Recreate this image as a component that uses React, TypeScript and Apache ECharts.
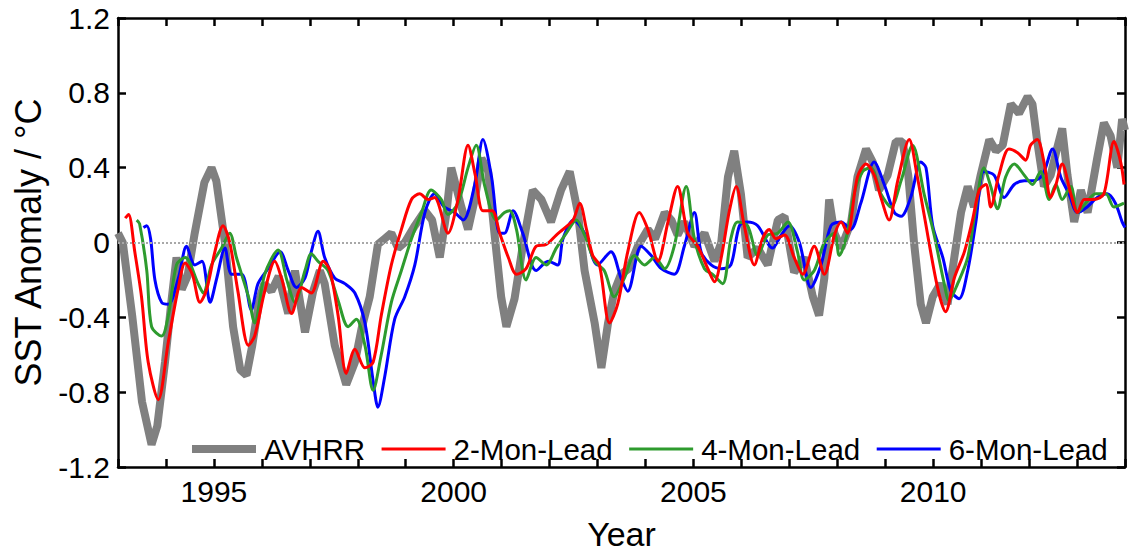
import React, { useEffect, useRef } from "react";
import * as echarts from "echarts";

// [year, SST anomaly °C]
const avhrr: [number, number][] = [
  [1993.0, 0.05], [1993.1, 0.0], [1993.3, -0.4], [1993.5, -0.85], [1993.7, -1.08], [1993.82, -0.98],
  [1993.98, -0.64], [1994.12, -0.3], [1994.22, -0.08], [1994.33, -0.25], [1994.45, -0.18], [1994.6, 0.05],
  [1994.8, 0.32], [1994.95, 0.4], [1995.05, 0.33], [1995.23, 0.0], [1995.4, -0.45], [1995.55, -0.68],
  [1995.68, -0.71], [1995.8, -0.55], [1995.95, -0.3], [1996.05, -0.22], [1996.2, -0.26], [1996.35, -0.18],
  [1996.55, -0.38], [1996.69, -0.15], [1996.9, -0.48], [1997.07, -0.26], [1997.21, -0.15], [1997.31, -0.22],
  [1997.52, -0.55], [1997.76, -0.76], [1997.94, -0.64], [1998.08, -0.46], [1998.25, -0.29], [1998.42, -0.01],
  [1998.56, 0.02], [1998.7, 0.05], [1998.84, -0.03], [1998.98, 0.0], [1999.19, 0.09], [1999.4, 0.17],
  [1999.55, 0.12], [1999.71, -0.08], [1999.85, 0.16], [1999.95, 0.4], [2000.16, 0.19], [2000.3, 0.07],
  [2000.44, 0.23], [2000.58, 0.45], [2000.72, 0.38], [2000.85, 0.05], [2000.99, -0.29], [2001.1, -0.45],
  [2001.27, -0.3], [2001.44, -0.02], [2001.65, 0.28], [2001.83, 0.23], [2002.03, 0.11], [2002.24, 0.28],
  [2002.42, 0.38], [2002.59, 0.16], [2002.73, -0.15], [2002.94, -0.43], [2003.08, -0.67], [2003.22, -0.43],
  [2003.35, -0.26], [2003.49, -0.17], [2003.65, -0.14], [2003.84, -0.02], [2004.05, 0.07], [2004.2, 0.02],
  [2004.4, 0.16], [2004.54, 0.12], [2004.67, 0.04], [2004.81, 0.11], [2005.02, -0.02], [2005.23, 0.05],
  [2005.44, -0.1], [2005.58, 0.0], [2005.72, 0.35], [2005.85, 0.49], [2005.99, 0.26], [2006.13, -0.08],
  [2006.34, -0.03], [2006.55, -0.12], [2006.76, 0.12], [2006.9, 0.14], [2007.1, -0.16], [2007.31, -0.08],
  [2007.49, -0.29], [2007.62, -0.39], [2007.73, -0.19], [2007.83, 0.23], [2007.94, 0.05], [2008.08, -0.03],
  [2008.29, 0.11], [2008.42, 0.35], [2008.6, 0.5], [2008.74, 0.43], [2008.87, 0.28], [2009.05, 0.36],
  [2009.22, 0.54], [2009.36, 0.54], [2009.48, 0.36], [2009.6, 0.0], [2009.74, -0.33], [2009.85, -0.43],
  [2009.99, -0.29], [2010.15, -0.22], [2010.3, -0.33], [2010.44, -0.08], [2010.58, 0.16], [2010.72, 0.3],
  [2010.85, 0.19], [2010.99, 0.36], [2011.17, 0.55], [2011.31, 0.49], [2011.45, 0.52], [2011.62, 0.74],
  [2011.79, 0.69], [2011.97, 0.78], [2012.07, 0.74], [2012.17, 0.54], [2012.31, 0.3], [2012.45, 0.36],
  [2012.58, 0.5], [2012.69, 0.61], [2012.8, 0.36], [2012.94, 0.11], [2013.08, 0.28], [2013.22, 0.16],
  [2013.42, 0.45], [2013.56, 0.64], [2013.7, 0.57], [2013.84, 0.4], [2013.94, 0.66], [2014.0, 0.6],
];

const lead2: [number, number][] = [
  [1993.15, 0.13], [1993.22, 0.15], [1993.35, -0.05], [1993.49, -0.29], [1993.63, -0.64], [1993.84, -0.84],
  [1994.05, -0.53], [1994.26, -0.24], [1994.4, -0.11], [1994.55, -0.17], [1994.71, -0.32], [1994.85, -0.25],
  [1995.02, -0.05], [1995.19, 0.09], [1995.33, 0.0], [1995.5, -0.26], [1995.72, -0.55], [1995.85, -0.5],
  [1996.06, -0.26], [1996.27, -0.1], [1996.42, -0.2], [1996.62, -0.38], [1996.83, -0.24], [1997.03, -0.27],
  [1997.28, -0.1], [1997.42, -0.15], [1997.59, -0.39], [1997.76, -0.7], [1997.94, -0.57], [1998.15, -0.67],
  [1998.32, -0.64], [1998.49, -0.39], [1998.7, -0.12], [1998.91, 0.07], [1999.12, 0.23], [1999.29, 0.26],
  [1999.47, 0.23], [1999.6, 0.24], [1999.88, 0.05], [2000.09, 0.23], [2000.3, 0.52], [2000.45, 0.36],
  [2000.61, 0.17], [2000.8, 0.17], [2000.96, 0.05], [2001.14, -0.08], [2001.31, -0.17], [2001.51, -0.14],
  [2001.72, -0.02], [2001.93, -0.01], [2002.14, 0.04], [2002.28, 0.07], [2002.49, 0.12], [2002.63, 0.21],
  [2002.77, 0.07], [2002.9, -0.07], [2003.04, -0.12], [2003.25, -0.43], [2003.42, -0.33], [2003.63, -0.05],
  [2003.87, 0.16], [2004.05, 0.07], [2004.26, -0.1], [2004.47, 0.11], [2004.67, 0.3], [2004.88, 0.05],
  [2005.09, -0.02], [2005.3, -0.14], [2005.44, -0.21], [2005.58, -0.08], [2005.75, 0.17], [2005.89, 0.3],
  [2006.06, 0.09], [2006.27, -0.12], [2006.44, 0.02], [2006.58, 0.07], [2006.72, 0.02], [2006.9, 0.04],
  [2007.1, -0.08], [2007.28, -0.17], [2007.52, -0.02], [2007.73, -0.17], [2007.94, 0.04], [2008.08, 0.11],
  [2008.21, 0.05], [2008.42, 0.35], [2008.6, 0.42], [2008.77, 0.36], [2008.91, 0.24], [2009.08, 0.12],
  [2009.26, 0.33], [2009.5, 0.55], [2009.67, 0.35], [2009.81, 0.15], [2010.09, -0.24], [2010.26, -0.37],
  [2010.44, -0.19], [2010.65, -0.05], [2010.82, 0.12], [2010.96, 0.28], [2011.1, 0.31], [2011.2, 0.19],
  [2011.37, 0.36], [2011.58, 0.5], [2011.76, 0.48], [2011.93, 0.44], [2012.03, 0.52], [2012.17, 0.55],
  [2012.31, 0.43], [2012.45, 0.24], [2012.55, 0.3], [2012.69, 0.42], [2012.87, 0.26], [2013.01, 0.16],
  [2013.15, 0.23], [2013.35, 0.23], [2013.56, 0.26], [2013.77, 0.54], [2013.91, 0.43], [2013.98, 0.31],
];

const lead4: [number, number][] = [
  [1993.39, 0.12], [1993.45, 0.1], [1993.6, -0.15], [1993.7, -0.45], [1993.91, -0.5], [1994.05, -0.39],
  [1994.22, -0.12], [1994.4, -0.08], [1994.67, -0.22], [1994.78, -0.27], [1994.95, -0.12], [1995.16, -0.03],
  [1995.33, 0.05], [1995.47, -0.08], [1995.72, -0.29], [1995.85, -0.43], [1996.06, -0.17], [1996.34, -0.04],
  [1996.52, -0.2], [1996.69, -0.32], [1996.9, -0.15], [1997.03, -0.06], [1997.17, -0.1], [1997.38, -0.15],
  [1997.59, -0.31], [1997.8, -0.45], [1997.97, -0.41], [1998.15, -0.55], [1998.32, -0.79], [1998.49, -0.6],
  [1998.7, -0.32], [1998.91, -0.15], [1999.12, 0.02], [1999.33, 0.16], [1999.53, 0.28], [1999.74, 0.23],
  [1999.88, 0.15], [2000.09, 0.21], [2000.3, 0.4], [2000.47, 0.52], [2000.65, 0.3], [2000.89, 0.12],
  [2001.06, 0.16], [2001.17, 0.17], [2001.31, 0.07], [2001.51, -0.2], [2001.72, -0.08], [2001.93, -0.12],
  [2002.14, -0.03], [2002.35, 0.05], [2002.56, 0.12], [2002.73, 0.04], [2002.94, -0.1], [2003.14, -0.15],
  [2003.35, -0.29], [2003.56, -0.19], [2003.77, -0.07], [2003.98, -0.12], [2004.19, -0.08], [2004.4, -0.14],
  [2004.6, -0.02], [2004.85, 0.3], [2005.02, 0.02], [2005.23, -0.14], [2005.4, -0.17], [2005.61, -0.22],
  [2005.78, 0.02], [2005.92, 0.11], [2006.13, 0.09], [2006.34, -0.07], [2006.55, 0.04], [2006.76, 0.05],
  [2006.97, 0.11], [2007.17, -0.05], [2007.31, -0.2], [2007.52, -0.15], [2007.73, 0.0], [2007.94, 0.05],
  [2008.04, -0.07], [2008.21, 0.05], [2008.35, 0.26], [2008.53, 0.38], [2008.7, 0.4], [2008.91, 0.26],
  [2009.12, 0.19], [2009.33, 0.33], [2009.57, 0.52], [2009.81, 0.26], [2010.02, 0.04], [2010.23, -0.22],
  [2010.33, -0.31], [2010.51, -0.22], [2010.72, -0.08], [2010.89, 0.19], [2011.06, 0.4], [2011.2, 0.3],
  [2011.34, 0.18], [2011.51, 0.35], [2011.69, 0.42], [2011.9, 0.36], [2012.07, 0.31], [2012.24, 0.38],
  [2012.42, 0.23], [2012.56, 0.31], [2012.69, 0.23], [2012.87, 0.3], [2013.01, 0.16], [2013.18, 0.21],
  [2013.39, 0.26], [2013.6, 0.26], [2013.77, 0.19], [2013.98, 0.21],
];

const lead6: [number, number][] = [
  [1993.53, 0.08], [1993.6, 0.09], [1993.68, 0.02], [1993.77, -0.2], [1993.91, -0.32], [1994.05, -0.33],
  [1994.26, -0.19], [1994.43, -0.02], [1994.6, -0.12], [1994.75, -0.1], [1994.92, -0.32], [1995.06, -0.19],
  [1995.23, -0.03], [1995.37, -0.17], [1995.58, -0.17], [1995.78, -0.36], [1995.92, -0.22], [1996.13, -0.14],
  [1996.38, -0.05], [1996.55, -0.15], [1996.72, -0.24], [1996.9, -0.19], [1997.03, -0.05], [1997.17, 0.06],
  [1997.31, -0.08], [1997.52, -0.19], [1997.73, -0.22], [1997.94, -0.27], [1998.15, -0.43], [1998.32, -0.74],
  [1998.42, -0.88], [1998.56, -0.72], [1998.77, -0.41], [1998.98, -0.29], [1999.19, -0.12], [1999.4, 0.16],
  [1999.6, 0.26], [1999.8, 0.19], [2000.02, 0.16], [2000.2, 0.12], [2000.44, 0.31], [2000.61, 0.55],
  [2000.79, 0.35], [2000.96, 0.05], [2001.06, 0.05], [2001.24, 0.17], [2001.44, 0.05], [2001.72, -0.15],
  [2001.97, -0.1], [2002.17, -0.12], [2002.28, 0.02], [2002.5, 0.12], [2002.73, 0.05], [2003.0, -0.12],
  [2003.28, -0.05], [2003.49, -0.19], [2003.63, -0.26], [2003.91, -0.02], [2004.12, -0.07], [2004.33, -0.14],
  [2004.6, -0.17], [2004.81, -0.02], [2005.02, 0.16], [2005.16, -0.05], [2005.37, -0.12], [2005.58, -0.14],
  [2005.78, -0.12], [2005.96, 0.09], [2006.13, 0.11], [2006.34, 0.09], [2006.65, -0.03], [2006.83, 0.04],
  [2007.0, 0.09], [2007.21, 0.0], [2007.45, -0.24], [2007.66, -0.12], [2007.87, 0.09], [2008.08, 0.11],
  [2008.28, 0.07], [2008.49, 0.21], [2008.77, 0.43], [2008.98, 0.31], [2009.19, 0.16], [2009.33, 0.14],
  [2009.53, 0.24], [2009.74, 0.43], [2009.85, 0.4], [2009.99, 0.09], [2010.2, -0.08], [2010.37, -0.26],
  [2010.54, -0.3], [2010.72, -0.15], [2010.89, 0.11], [2011.06, 0.38], [2011.27, 0.36], [2011.48, 0.24],
  [2011.69, 0.31], [2011.9, 0.33], [2012.08, 0.33], [2012.28, 0.36], [2012.49, 0.5], [2012.66, 0.35],
  [2012.83, 0.26], [2013.01, 0.16], [2013.21, 0.19], [2013.42, 0.24], [2013.63, 0.26], [2013.8, 0.21],
  [2013.94, 0.11], [2014.0, 0.08],
];

const seriesNames = ["AVHRR", "2-Mon-Lead", "4-Mon-Lead", "6-Mon-Lead"];
const yearLabels = [1995, 2000, 2005, 2010];

const SANS = "'Liberation Sans', Arial, Helvetica, sans-serif";

export default function App() {
  const ref = useRef<HTMLDivElement>(null);
  useEffect(() => {
    if (!ref.current) return;
    const chart = echarts.init(ref.current, undefined, { renderer: "svg" });
    const axisLine = { show: true, onZero: false, lineStyle: { color: "#000", width: 2.5 } };
    const tick = { show: true, inside: true, length: 8, lineStyle: { color: "#000", width: 2.5 } };
    chart.setOption({
      animation: false,
      backgroundColor: "#fff",
      grid: { left: 118, right: 5, top: 18, bottom: 71, show: false, containLabel: false },
      legend: {
        left: 188,
        top: 434,
        width: 960,
        padding: 0,
        itemWidth: 64,
        itemHeight: 14,
        itemGap: 15,
        data: [
          { name: seriesNames[0], lineStyle: { width: 8, color: "#808080" } },
          { name: seriesNames[1], lineStyle: { width: 3, color: "#ff0000" } },
          { name: seriesNames[2], lineStyle: { width: 3, color: "#2e9b2e" } },
          { name: seriesNames[3], lineStyle: { width: 3, color: "#0000ff" } },
        ],
        itemStyle: { opacity: 0 },
        textStyle: { fontFamily: SANS, fontSize: 29.5, color: "#000", padding: [0, 0, 0, 3] },
      },
      xAxis: [
        {
          type: "value", min: 1993, max: 2014, interval: 1, position: "bottom",
          axisLine, axisTick: tick, splitLine: { show: false },
          axisLabel: {
            margin: 9, fontFamily: SANS, fontSize: 30, color: "#000",
            formatter: (v: number) => (yearLabels.includes(v) ? String(v) : ""),
          },
          name: "Year", nameLocation: "middle", nameGap: 50,
          nameTextStyle: { fontFamily: SANS, fontSize: 34, color: "#000" },
        },
        {
          type: "value", min: 1993, max: 2014, interval: 1, position: "top",
          axisLine, axisTick: tick, axisLabel: { show: false }, splitLine: { show: false },
        },
      ],
      yAxis: [
        {
          type: "value", min: -1.2, max: 1.2, interval: 0.4, position: "left",
          axisLine, axisTick: tick, splitLine: { show: false },
          axisLabel: { margin: 8, fontFamily: SANS, fontSize: 30, color: "#000",
            formatter: (v: number) => String(Math.round(v * 10) / 10) },
          name: "SST Anomaly / °C", nameLocation: "middle", nameGap: 72,
          nameTextStyle: { fontFamily: SANS, fontSize: 36, color: "#000" },
        },
        {
          type: "value", min: -1.2, max: 1.2, interval: 0.4, position: "right",
          axisLine, axisTick: tick, axisLabel: { show: false }, splitLine: { show: false },
        },
      ],
      series: [
        {
          name: seriesNames[0], type: "line", data: avhrr, showSymbol: false, symbol: "none",
          lineStyle: { color: "#808080", width: 8 }, itemStyle: { color: "#808080" },
          markLine: {
            silent: true, symbol: "none", label: { show: false },
            lineStyle: { color: "#a8a8a8", width: 2, type: "dotted" },
            data: [{ yAxis: 0 }],
          },
          z: 1,
        },
        {
          name: seriesNames[3], type: "line", data: lead6, showSymbol: false, symbol: "none", smooth: 0.3,
          lineStyle: { color: "#0000ff", width: 3 }, itemStyle: { color: "#0000ff" }, z: 2,
        },
        {
          name: seriesNames[2], type: "line", data: lead4, showSymbol: false, symbol: "none", smooth: 0.3,
          lineStyle: { color: "#2e9b2e", width: 3 }, itemStyle: { color: "#2e9b2e" }, z: 2,
        },
        {
          name: seriesNames[1], type: "line", data: lead2, showSymbol: false, symbol: "none", smooth: 0.3,
          lineStyle: { color: "#ff0000", width: 3 }, itemStyle: { color: "#ff0000" }, z: 2,
        },
      ],
    });
    return () => chart.dispose();
  }, []);
  return <div ref={ref} style={{ position: "fixed", left: 0, top: 0, width: 1130, height: 556 }} />;
}
